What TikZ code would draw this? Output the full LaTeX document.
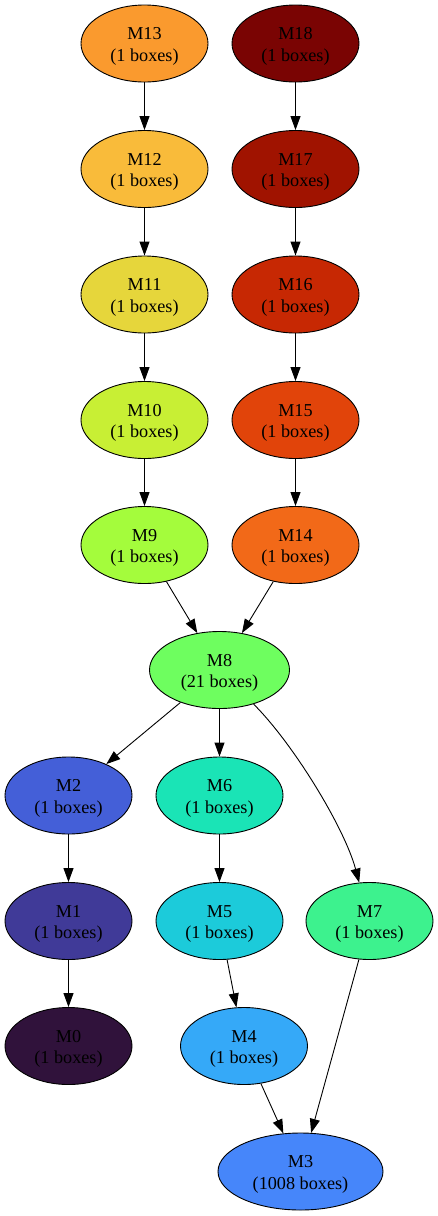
\documentclass[tikz,border=0pt]{standalone}
\usepackage{fontspec}
\setmainfont{Liberation Serif}
\usetikzlibrary{shapes.geometric,arrows.meta}
\definecolor{c0}{HTML}{30123B}
\definecolor{c1}{HTML}{403A98}
\definecolor{c2}{HTML}{445FD8}
\definecolor{c3}{HTML}{4686FA}
\definecolor{c4}{HTML}{35A9F8}
\definecolor{c5}{HTML}{1CCBDA}
\definecolor{c6}{HTML}{1AE4B6}
\definecolor{c7}{HTML}{3DF28E}
\definecolor{c8}{HTML}{6EFE5F}
\definecolor{c9}{HTML}{A4FC3C}
\definecolor{c10}{HTML}{C8EF34}
\definecolor{c11}{HTML}{E6D63B}
\definecolor{c12}{HTML}{F9BB3A}
\definecolor{c13}{HTML}{FA9A2E}
\definecolor{c14}{HTML}{F26918}
\definecolor{c15}{HTML}{E1440A}
\definecolor{c16}{HTML}{C72803}
\definecolor{c17}{HTML}{A01300}
\definecolor{c18}{HTML}{7A0403}
\begin{document}
\begin{tikzpicture}[>={Triangle[length=14pt,width=10pt]}, x=1pt, y=1pt,
  mnode/.style={ellipse, draw, line width=0.9pt, inner sep=0pt,
    minimum width=127pt, minimum height=77pt, align=center,
    font=\fontsize{18.2}{21.8}\selectfont,
    execute at begin node={\rule{0pt}{39.6pt}}},
  link/.style={->, line width=0.9pt}]
\useasboundingbox (0,0) rectangle (438,-1216);

% left chain
\node[mnode, fill=c13] (m13) at (144.5,-43.5) {M13\\(1 boxes)};
\node[mnode, fill=c12] (m12) at (144.5,-169) {M12\\(1 boxes)};
\node[mnode, fill=c11] (m11) at (144.5,-294.5) {M11\\(1 boxes)};
\node[mnode, fill=c10] (m10) at (144.5,-420) {M10\\(1 boxes)};
\node[mnode, fill=c9] (m9) at (144.5,-545) {M9\\(1 boxes)};

% right chain
\node[mnode, fill=c18] (m18) at (295.5,-43.5) {M18\\(1 boxes)};
\node[mnode, fill=c17] (m17) at (295.5,-169) {M17\\(1 boxes)};
\node[mnode, fill=c16] (m16) at (295.5,-294.5) {M16\\(1 boxes)};
\node[mnode, fill=c15] (m15) at (295.5,-420) {M15\\(1 boxes)};
\node[mnode, fill=c14] (m14) at (295.5,-545) {M14\\(1 boxes)};

\node[mnode, fill=c8, minimum width=140pt] (m8) at (219.5,-670) {M8\\(21 boxes)};

\node[mnode, fill=c2] (m2) at (68.5,-795.5) {M2\\(1 boxes)};
\node[mnode, fill=c6] (m6) at (219.5,-795.5) {M6\\(1 boxes)};
\node[mnode, fill=c1] (m1) at (68.5,-921) {M1\\(1 boxes)};
\node[mnode, fill=c5] (m5) at (219.5,-921) {M5\\(1 boxes)};
\node[mnode, fill=c7] (m7) at (369.5,-921) {M7\\(1 boxes)};
\node[mnode, fill=c0] (m0) at (68.5,-1046) {M0\\(1 boxes)};
\node[mnode, fill=c4] (m4) at (244,-1046) {M4\\(1 boxes)};
\node[mnode, fill=c3, minimum width=165pt] (m3) at (300.5,-1171.5) {M3\\(1008 boxes)};

\draw[link] (m13) -- (m12);
\draw[link] (m12) -- (m11);
\draw[link] (m11) -- (m10);
\draw[link] (m10) -- (m9);
\draw[link] (m18) -- (m17);
\draw[link] (m17) -- (m16);
\draw[link] (m16) -- (m15);
\draw[link] (m15) -- (m14);
\draw[link] (m9) -- (m8);
\draw[link] (m14) -- (m8);
\draw[link] (m8) -- (m2);
\draw[link] (m8) -- (m6);
\draw[link] (m8) to[out=-45,in=105,looseness=0.7] (m7);
\draw[link] (m2) -- (m1);
\draw[link] (m1) -- (m0);
\draw[link] (m6) -- (m5);
\draw[link] (m5) -- (m4);
\draw[link] (m4) -- (m3);
\draw[link] (m7) -- (m3);
\end{tikzpicture}
\end{document}
